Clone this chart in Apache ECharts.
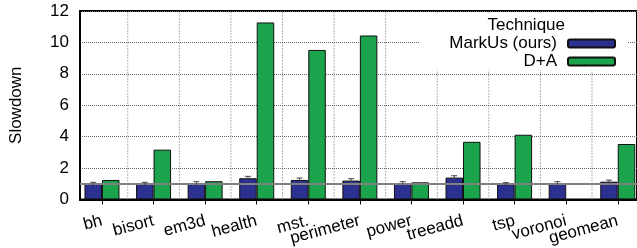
<!DOCTYPE html>
<html>
<head>
    <meta charset="utf-8">
    <title>Slowdown</title>
    <script src="https://cdn.jsdelivr.net/npm/echarts@6/dist/echarts.min.js"></script>
    <style>
        html, body { margin: 0; padding: 0; background: #fff; }
        #chart { width: 637px; height: 248px; }
    </style>
</head>
<body>
<div id='chart'></div>
<script type='text/javascript'>
// benchmark names along the x axis
var categories = ['bh', 'bisort', 'em3d', 'health', 'mst.', 'perimeter', 'power', 'treeadd', 'tsp', 'voronoi', 'geomean'];
// slowdown values (null = no bar)
var markus = [0.99, 0.99, 1.03, 1.35, 1.24, 1.20, 1.03, 1.39, 0.97, 1.03, 1.13];
var markusErr = [0.10, 0.10, 0.10, 0.12, 0.12, 0.12, 0.10, 0.12, 0.10, 0.10, 0.10];
var dpa = [1.24, 3.17, 1.16, 11.27, 9.52, 10.44, 1.09, 3.67, 4.12, null, 3.53];
var yTicks = [0, 2, 4, 6, 8, 10, 12];

var FONT = 'Liberation Sans';
var BAR_W = 17.5;
var X_MIN = -0.426, X_MAX = 10.373;

function pairs(vals) {
    var out = [];
    vals.forEach(function (v, i) { if (v !== null) out.push([i, v]); });
    return out;
}

var idx = categories.map(function (c, i) { return i; });
var evenIdx = idx.filter(function (i) { return i % 2 === 0; });
var oddIdx = idx.filter(function (i) { return i % 2 === 1; });
// dotted separators between benchmarks
var bounds = idx.slice(0, -1).map(function (i) { return [i + 0.5]; });

// labels overlap in the original, so they are split over two stacked axes
function labelAxis(values, main) {
    return {
        type: 'value',
        position: 'bottom',
        min: X_MIN, max: X_MAX,
        axisLine: { show: main, onZero: false, lineStyle: { color: '#000', width: 2 } },
        axisTick: { show: main, customValues: idx, length: 5, lineStyle: { color: '#000', width: 1 } },
        splitLine: { show: false },
        axisLabel: {
            customValues: values,
            rotate: 15,
            margin: 21,
            hideOverlap: false,
            showMinLabel: true, showMaxLabel: true,
            fontFamily: FONT, fontSize: 17, color: '#000',
            formatter: function (v) { return categories[Math.round(v)]; }
        }
    };
}

var chart = echarts.init(document.getElementById('chart'));
var option = {
    backgroundColor: '#fff',
    animation: false,
    title: {
        text: 'Technique',
        right: 67, top: 12,
        textStyle: { fontFamily: FONT, fontSize: 17, fontWeight: 'normal', color: '#000' }
    },
    legend: {
        orient: 'vertical',
        right: 9, top: 13,
        align: 'right',
        padding: [22, 12, 0, 30],
        backgroundColor: '#fff',
        itemWidth: 47, itemHeight: 8, itemGap: 1,
        textStyle: { fontFamily: FONT, fontSize: 17, color: '#000', padding: [0, 6, 0, 0] },
        data: ['MarkUs (ours)', 'D+A']
    },
    grid: {
        left: 79, right: 0, top: 11, bottom: 48,
        show: true, borderColor: '#000', borderWidth: 2
    },
    xAxis: [labelAxis(evenIdx, true), labelAxis(oddIdx, false)],
    yAxis: {
        type: 'value',
        min: 0, max: 12, interval: 2,
        name: 'Slowdown',
        nameLocation: 'middle',
        nameGap: 55,
        nameTextStyle: { fontFamily: FONT, fontSize: 17, color: '#000' },
        axisLine: { show: true, onZero: false, lineStyle: { color: '#000', width: 2 } },
        axisTick: { show: false },
        axisLabel: {
            margin: 11, fontFamily: FONT, fontSize: 17, color: '#000',
            customValues: yTicks
        },
        splitLine: { show: true, lineStyle: { color: '#666', type: 'dotted', width: 1 } }
    },
    series: [
        {
            name: 'sep',
            type: 'custom',
            z: 1,
            silent: true,
            data: bounds,
            renderItem: function (params, api) {
                var x = api.value(0);
                var a = api.coord([x, 0]);
                var b = api.coord([x, 12]);
                return {
                    type: 'line',
                    shape: { x1: a[0], y1: a[1], x2: b[0], y2: b[1] },
                    style: { stroke: '#666', lineWidth: 1, lineDash: [1, 2] }
                };
            }
        },
        {
            name: 'MarkUs (ours)',
            type: 'bar',
            barWidth: BAR_W,
            barGap: '0%',
            data: pairs(markus),
            itemStyle: { color: '#2c3190', borderColor: '#111', borderWidth: 1 }
        },
        {
            name: 'D+A',
            type: 'bar',
            barWidth: BAR_W,
            barGap: '0%',
            data: pairs(dpa),
            itemStyle: { color: '#1ba44b', borderColor: '#111', borderWidth: 1 },
            markLine: {
                silent: true, symbol: 'none', z: 5,
                label: { show: false },
                lineStyle: { color: '#808080', type: 'solid', width: 2 },
                data: [{ yAxis: 1 }]
            }
        },
        {
            name: 'err',
            type: 'custom',
            z: 6,
            silent: true,
            data: markus.map(function (v, i) { return [i, v, markusErr[i]]; }),
            renderItem: function (params, api) {
                var x = api.value(0), y = api.value(1), e = api.value(2);
                var top = api.coord([x, y + e]);
                var bot = api.coord([x, y - e]);
                var cx = top[0] - BAR_W / 2;
                return {
                    type: 'group',
                    children: [
                        { type: 'line', shape: { x1: cx, y1: top[1], x2: cx, y2: bot[1] },
                          style: { stroke: '#444', lineWidth: 1 } },
                        { type: 'line', shape: { x1: cx - 3, y1: top[1], x2: cx + 3, y2: top[1] },
                          style: { stroke: '#444', lineWidth: 1 } }
                    ]
                };
            }
        }
    ]
};
chart.setOption(option);
</script>
</body>
</html>
